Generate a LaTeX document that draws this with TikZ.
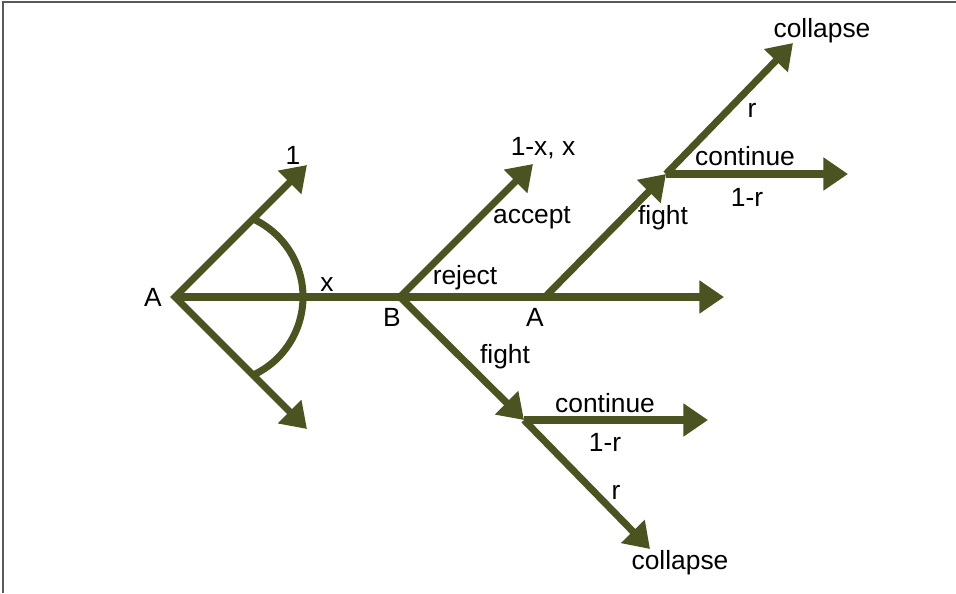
\documentclass[tikz,border=0pt]{standalone}
\usepackage{fontspec}
\setmainfont{Liberation Sans}
\usetikzlibrary{arrows.meta}
\definecolor{olive}{RGB}{75,83,32}

\begin{document}
\begin{tikzpicture}[x=0.02cm,y=-0.02cm,
        branch/.style={olive, line width=4pt, line join=miter},
        tip/.style={-{Triangle[length=14pt,width=18pt]}},
        lbl/.style={font=\fontsize{15}{18}\selectfont, inner sep=1pt}]
    \useasboundingbox (0,0) rectangle (956,593);
    \draw[gray!70!black, line width=1.2pt] (3,593) -- (3,2) -- (956,2);

    \coordinate (A) at (175,297);
    \coordinate (B) at (400,297);
    \coordinate (A2) at (545,297);
    \coordinate (F1) at (666,174);
    \coordinate (F2) at (524,420);
    \coordinate (one) at (307,165);
    \coordinate (low) at (307,429);
    \coordinate (acc) at (533,164);
    \coordinate (rej) at (724,297);
    \coordinate (col1) at (793,43);
    \coordinate (con1) at (848,174);
    \coordinate (con2) at (708,420);
    \coordinate (col2) at (650,549);

    \begin{scope}[branch]
        \draw[{Triangle[length=14pt,width=18pt]}-{Triangle[length=14pt,width=18pt]}] (one) -- (A) -- (low);
        \draw (A) -- (B);
        \draw (217,297) ++(65:86) arc (65:-65:86);
        \draw[tip] (B) -- (acc);
        \draw[tip] (B) -- (rej);
        \draw[tip] (A2) -- (F1);
        \draw[tip] (F1) -- (col1);
        \draw[tip] (F1) -- (con1);
        \draw[tip] (B) -- (F2);
        \draw[tip] (F2) -- (con2);
        \draw[tip] (F2) -- (col2);
    \end{scope}

    \node[lbl] (lA) at (153,297) {A};
    \node[lbl] (l1) at (293,155) {1};
    \node[lbl] (lx) at (327,285) {x};
    \node[lbl] (lB) at (392,317) {B};
    \node[lbl] (lA2) at (535,317) {A};
    \node[lbl] (lrej) at (465,278) {reject};
    \node[lbl] (lacc) at (532,218) {accept};
    \node[lbl] (lpay) at (543,148) {1-x, x};
    \node[lbl] (lfight1) at (663,218) {fight};
    \node[lbl] (lcon1) at (745,156) {continue};
    \node[lbl] (lq1) at (747,197) {1-r};
    \node[lbl] (lr1) at (752,110) {r};
    \node[lbl] (lcol1) at (822,31) {collapse};
    \node[lbl] (lfight2) at (505,357) {fight};
    \node[lbl] (lcon2) at (605,403) {continue};
    \node[lbl] (lq2) at (605,442) {1-r};
    \node[lbl] (lr2) at (616,492) {r};
    \node[lbl] (lcol2) at (680,563) {collapse};
\end{tikzpicture}
\end{document}
